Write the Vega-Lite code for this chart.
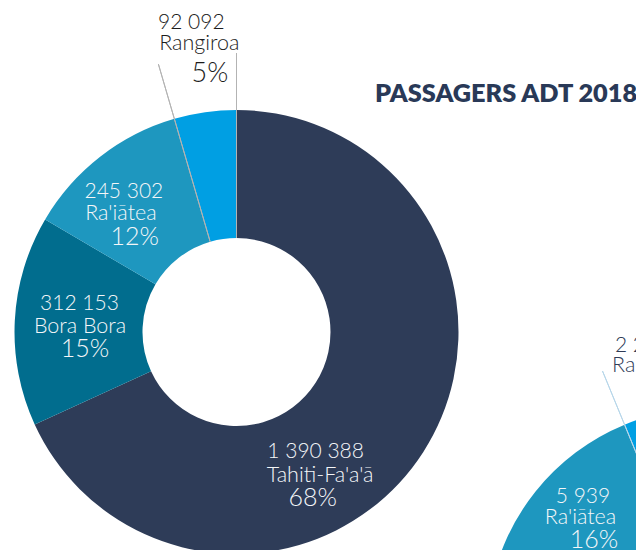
{
  "$schema": "https://vega.github.io/schema/vega-lite/v6.json",
  "width": 636,
  "height": 550,
  "padding": 0,
  "autosize": {"type": "none"},
  "background": "#ffffff",
  "config": {"view": {"stroke": null}},
  "title": {"text": "PASSAGERS ADT 2018", "orient": "top", "anchor": "start", "frame": "group", "dx": 375, "offset": -127, "baseline": "alphabetic", "font": "Lato", "fontSize": 25.3, "fontWeight": 800, "color": "#293957"},
  "datasets": {
    "pax": [
      {"group": "Total 2018", "id": "tahiti", "name": "Tahiti-Fa'a'ā", "value": 1390388, "valueLabel": "1 390 388", "pct": "68%"},
      {"group": "Total 2018", "id": "bora", "name": "Bora Bora", "value": 312153, "valueLabel": "312 153", "pct": "15%"},
      {"group": "Total 2018", "id": "raiatea", "name": "Ra'iātea", "value": 245302, "valueLabel": "245 302", "pct": "12%"},
      {"group": "Total 2018", "id": "rangiroa", "name": "Rangiroa", "value": 92092, "valueLabel": "92 092", "pct": "5%"},
      {"group": "ADT 2018", "id": "tahiti", "name": "Tahiti-Fa'a'ā", "value": 21600, "valueLabel": "21 600", "pct": "59%"},
      {"group": "ADT 2018", "id": "bora", "name": "Bora Bora", "value": 6900, "valueLabel": "6 900", "pct": "19%"},
      {"group": "ADT 2018", "id": "raiatea", "name": "Ra'iātea", "value": 5939, "valueLabel": "5 939", "pct": "16%"},
      {"group": "ADT 2018", "id": "rangiroa", "name": "Rangiroa", "value": 2280, "valueLabel": "2 280", "pct": "6%"}
    ]
  },
  "data": {"name": "pax"},
  "encoding": {
    "x": {"field": "group", "type": "nominal", "scale": {"type": "point", "domain": ["Total 2018", "ADT 2018"], "range": [236.5, 709], "padding": 0}, "axis": null},
    "y": {"field": "group", "type": "nominal", "scale": {"type": "point", "domain": ["Total 2018", "ADT 2018"], "range": [332, 630], "padding": 0}, "axis": null},
    "order": {"field": "value", "type": "quantitative", "sort": "descending"}
  },
  "layer": [
    {
      "transform": [{"filter": "datum.group === 'Total 2018'"}],
      "layer": [
        {
          "mark": {"type": "arc", "innerRadius": 94, "outerRadius": 222},
          "encoding": {
            "theta": {"field": "value", "type": "quantitative", "stack": true},
            "color": {"field": "name", "type": "nominal", "scale": {"domain": ["Tahiti-Fa'a'ā", "Bora Bora", "Ra'iātea", "Rangiroa"], "range": ["#2e3c58", "#016d8e", "#1e97bf", "#009fe3"]}, "legend": null}
          }
        },
        {
          "transform": [
            {"stack": "value", "groupby": ["group"], "sort": [{"field": "value", "order": "descending"}], "as": ["s0", "s1"]},
            {"filter": "datum.id === 'raiatea' || datum.id === 'rangiroa'"}
          ],
          "mark": {"type": "arc", "innerRadius": 94, "outerRadius": 279, "fill": "transparent", "stroke": "#b3b3b3", "strokeWidth": 1},
          "encoding": {"theta": {"field": "s1", "type": "quantitative"}, "theta2": {"field": "s1"}}
        },
        {
          "encoding": {"theta": {"field": "value", "type": "quantitative", "stack": true, "bandPosition": 0.615}, "detail": {"field": "id"}},
          "layer": [
            {"mark": {"type": "text", "font": "Lato", "fontWeight": 300, "color": "#f4f6f8", "align": "center", "baseline": "alphabetic", "radius": 172, "dx": -4.5, "dy": -24.4, "fontSize": 21},
             "encoding": {"text": {"condition": {"test": "datum.id === 'tahiti'", "field": "valueLabel"}, "value": ""}}},
            {"mark": {"type": "text", "font": "Lato", "fontWeight": 300, "color": "#f4f6f8", "align": "center", "baseline": "alphabetic", "radius": 172, "dx": 0, "dy": 0, "fontSize": 21.5},
             "encoding": {"text": {"condition": {"test": "datum.id === 'tahiti'", "field": "name"}, "value": ""}}},
            {"mark": {"type": "text", "font": "Lato", "fontWeight": 300, "color": "#f4f6f8", "align": "center", "baseline": "alphabetic", "radius": 172, "dx": -7.5, "dy": 24, "fontSize": 25},
             "encoding": {"text": {"condition": {"test": "datum.id === 'tahiti'", "field": "pct"}, "value": ""}}}
          ]
        },
        {
          "encoding": {"theta": {"field": "value", "type": "quantitative", "stack": true, "bandPosition": 0.442}, "detail": {"field": "id"}},
          "layer": [
            {"mark": {"type": "text", "font": "Lato", "fontWeight": 300, "color": "#f4f6f8", "align": "center", "baseline": "alphabetic", "radius": 156.5, "dx": -0.5, "dy": -22.7, "fontSize": 21},
             "encoding": {"text": {"condition": {"test": "datum.id === 'bora'", "field": "valueLabel"}, "value": ""}}},
            {"mark": {"type": "text", "font": "Lato", "fontWeight": 300, "color": "#f4f6f8", "align": "center", "baseline": "alphabetic", "radius": 156.5, "dx": 0, "dy": 0, "fontSize": 21.5},
             "encoding": {"text": {"condition": {"test": "datum.id === 'bora'", "field": "name"}, "value": ""}}},
            {"mark": {"type": "text", "font": "Lato", "fontWeight": 300, "color": "#f4f6f8", "align": "center", "baseline": "alphabetic", "radius": 156.5, "dx": 5, "dy": 24, "fontSize": 25},
             "encoding": {"text": {"condition": {"test": "datum.id === 'bora'", "field": "pct"}, "value": ""}}}
          ]
        },
        {
          "encoding": {"theta": {"field": "value", "type": "quantitative", "stack": true, "bandPosition": 0.315}, "detail": {"field": "id"}},
          "layer": [
            {"mark": {"type": "text", "font": "Lato", "fontWeight": 300, "color": "#f4f6f8", "align": "center", "baseline": "alphabetic", "radius": 161, "dx": 3, "dy": -21.7, "fontSize": 21},
             "encoding": {"text": {"condition": {"test": "datum.id === 'raiatea'", "field": "valueLabel"}, "value": ""}}},
            {"mark": {"type": "text", "font": "Lato", "fontWeight": 300, "color": "#f4f6f8", "align": "center", "baseline": "alphabetic", "radius": 161, "dx": 0, "dy": 0, "fontSize": 21.5},
             "encoding": {"text": {"condition": {"test": "datum.id === 'raiatea'", "field": "name"}, "value": ""}}},
            {"mark": {"type": "text", "font": "Lato", "fontWeight": 300, "color": "#f4f6f8", "align": "center", "baseline": "alphabetic", "radius": 161, "dx": 14, "dy": 25, "fontSize": 25},
             "encoding": {"text": {"condition": {"test": "datum.id === 'raiatea'", "field": "pct"}, "value": ""}}}
          ]
        },
        {
          "encoding": {"theta": {"field": "value", "type": "quantitative", "stack": true, "bandPosition": 0.538}, "detail": {"field": "id"}},
          "layer": [
            {"mark": {"type": "text", "font": "Lato", "fontWeight": 300, "color": "#1c1c1c", "align": "center", "baseline": "alphabetic", "radius": 284.4, "dx": -8, "dy": -20.7, "fontSize": 21},
             "encoding": {"text": {"condition": {"test": "datum.id === 'rangiroa'", "field": "valueLabel"}, "value": ""}}},
            {"mark": {"type": "text", "font": "Lato", "fontWeight": 300, "color": "#1c1c1c", "align": "center", "baseline": "alphabetic", "radius": 284.4, "dx": 0, "dy": 0, "fontSize": 21.5},
             "encoding": {"text": {"condition": {"test": "datum.id === 'rangiroa'", "field": "name"}, "value": ""}}},
            {"mark": {"type": "text", "font": "Lato", "fontWeight": 300, "color": "#1c1c1c", "align": "center", "baseline": "alphabetic", "radius": 284.4, "dx": 10.5, "dy": 31.7, "fontSize": 27},
             "encoding": {"text": {"condition": {"test": "datum.id === 'rangiroa'", "field": "pct"}, "value": ""}}}
          ]
        }
      ]
    },
    {
      "transform": [{"filter": "datum.group === 'ADT 2018'"}],
      "layer": [
        {
          "mark": {"type": "arc", "innerRadius": 94, "outerRadius": 222},
          "encoding": {
            "theta": {"field": "value", "type": "quantitative", "stack": true},
            "color": {"field": "name", "type": "nominal", "scale": {"domain": ["Tahiti-Fa'a'ā", "Bora Bora", "Ra'iātea", "Rangiroa"], "range": ["#2e3c58", "#016d8e", "#1e97bf", "#009fe3"]}, "legend": null}
          }
        },
        {
          "transform": [
            {"stack": "value", "groupby": ["group"], "sort": [{"field": "value", "order": "descending"}], "as": ["s0", "s1"]},
            {"filter": "datum.id === 'raiatea' || datum.id === 'rangiroa'"}
          ],
          "mark": {"type": "arc", "innerRadius": 94, "outerRadius": 280, "fill": "transparent", "stroke": "#b7d6e9", "strokeWidth": 1},
          "encoding": {"theta": {"field": "s1", "type": "quantitative"}, "theta2": {"field": "s1"}}
        },
        {
          "encoding": {"theta": {"field": "value", "type": "quantitative", "stack": true, "bandPosition": 0.517}, "detail": {"field": "id"}},
          "layer": [
            {"mark": {"type": "text", "font": "Lato", "fontWeight": 300, "color": "#f4f6f8", "align": "center", "baseline": "alphabetic", "radius": 166.6, "dx": 2.5, "dy": -20.7, "fontSize": 21},
             "encoding": {"text": {"condition": {"test": "datum.id === 'raiatea'", "field": "valueLabel"}, "value": ""}}},
            {"mark": {"type": "text", "font": "Lato", "fontWeight": 300, "color": "#f4f6f8", "align": "center", "baseline": "alphabetic", "radius": 166.6, "dx": 0, "dy": 0, "fontSize": 21.5},
             "encoding": {"text": {"condition": {"test": "datum.id === 'raiatea'", "field": "name"}, "value": ""}}},
            {"mark": {"type": "text", "font": "Lato", "fontWeight": 300, "color": "#f4f6f8", "align": "center", "baseline": "alphabetic", "radius": 166.6, "dx": 13.5, "dy": 24.3, "fontSize": 25},
             "encoding": {"text": {"condition": {"test": "datum.id === 'raiatea'", "field": "pct"}, "value": ""}}}
          ]
        },
        {
          "encoding": {"theta": {"field": "value", "type": "quantitative", "stack": true, "bandPosition": 0.079}, "detail": {"field": "id"}},
          "layer": [
            {"mark": {"type": "text", "font": "Lato", "fontWeight": 300, "color": "#2f3b56", "align": "left", "baseline": "alphabetic", "radius": 275.9, "dx": 3, "dy": -20, "fontSize": 21},
             "encoding": {"text": {"condition": {"test": "datum.id === 'rangiroa'", "field": "valueLabel"}, "value": ""}}},
            {"mark": {"type": "text", "font": "Lato", "fontWeight": 300, "color": "#2f3b56", "align": "left", "baseline": "alphabetic", "radius": 275.9, "dx": 0, "dy": 0, "fontSize": 21.5},
             "encoding": {"text": {"condition": {"test": "datum.id === 'rangiroa'", "field": "name"}, "value": ""}}}
          ]
        }
      ]
    }
  ],
  "resolve": {"scale": {"theta": "independent"}}
}
